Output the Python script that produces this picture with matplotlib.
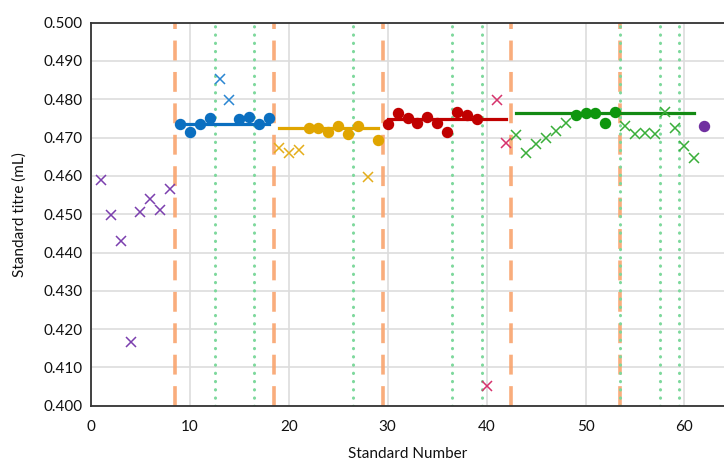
import matplotlib
matplotlib.use("Agg")
import matplotlib.pyplot as plt

plt.rcParams['font.family'] = ['Lato', 'DejaVu Sans']

# ---- data ----
purple_x_n = [1, 2, 3, 4, 5, 6, 7, 8]
purple_x_v = [0.4589, 0.4499, 0.4430, 0.4166, 0.4506, 0.4539, 0.4510, 0.4565]
purple_o_n = [62]
purple_o_v = [0.4729]

blue_o_n = [9, 10, 11, 12, 15, 16, 17, 18]
blue_o_v = [0.4736, 0.4715, 0.4736, 0.4750, 0.4749, 0.4755, 0.4736, 0.4750]
blue_x_n = [13, 14]
blue_x_v = [0.4853, 0.4798]

yellow_o_n = [22, 23, 24, 25, 26, 27, 29]
yellow_o_v = [0.4725, 0.4725, 0.4714, 0.4729, 0.4709, 0.4729, 0.4694]
yellow_x_n = [19, 20, 21, 28]
yellow_x_v = [0.4673, 0.4659, 0.4668, 0.4598]

red_o_n = [30, 31, 32, 33, 34, 35, 36, 37, 38, 39]
red_o_v = [0.4736, 0.4763, 0.4750, 0.4738, 0.4755, 0.4738, 0.4714, 0.4768, 0.4759, 0.4749]
pink_x_n = [40, 41, 42]
pink_x_v = [0.4052, 0.4798, 0.4687]

green_o_n = [49, 50, 51, 52, 53]
green_o_v = [0.4759, 0.4763, 0.4763, 0.4738, 0.4768]
green_x_n = [43, 44, 45, 46, 47, 48, 54, 55, 56, 57, 58, 59, 60, 61]
green_x_v = [0.4707, 0.4660, 0.4683, 0.4698, 0.4718, 0.4738,
             0.4729, 0.4709, 0.4712, 0.4709, 0.4768, 0.4724, 0.4679, 0.4648]

# mean lines: (start, end, level)
mean_start = [9, 19, 30, 43]
mean_end = [18, 29, 42, 61]
mean_level = [0.4736, 0.4724, 0.4749, 0.4764]
mean_colors = ['#0B6FC0', '#E0A500', '#C00000', '#138A13']

dashed_x = [8.5, 18.5, 29.5, 42.5, 53.5]
dotted_x = [12.5, 16.5, 26.5, 36.5, 39.5, 53.5, 57.5, 59.5]

x_ticks = [0, 10, 20, 30, 40, 50, 60]
y_ticks = [0.400, 0.410, 0.420, 0.430, 0.440, 0.450, 0.460, 0.470, 0.480, 0.490, 0.500]

# ---- figure ----
fig = plt.figure(figsize=(7.24, 4.61), dpi=100)
ax = fig.add_axes([91/724, 55.3/461, 1 - 91/724, (405.7-22.7)/461])

ax.set_xlim(0, 64)
ax.set_ylim(0.400, 0.500)
ax.set_xticks(x_ticks)
ax.set_yticks(y_ticks)
ax.set_yticklabels([f"{v:.3f}" for v in y_ticks])
ax.grid(True, color='#DDDDDD', linewidth=1.2, zorder=0)
ax.set_axisbelow(True)
ax.tick_params(length=0, labelsize=11, pad=6, colors='#111111')
ax.tick_params(axis='x', pad=10)
for s in ['left', 'bottom', 'top']:
    ax.spines[s].set_color('#333333')
    ax.spines[s].set_linewidth(1.3)
ax.spines['right'].set_visible(False)

for xv in dashed_x:
    ax.axvline(xv, color='#F9A46E', linewidth=2.6, linestyle=(0, (5.5, 3.2)), zorder=1.5, alpha=0.9)
for xv in dotted_x:
    ax.axvline(xv, color='#7DD89C', linewidth=2.2, linestyle=(0, (0.1, 2.6)),
               dash_capstyle='round', zorder=1.6)

for s, e, lv, c in zip(mean_start, mean_end, mean_level, mean_colors):
    ax.plot([s, e], [lv, lv], color=c, linewidth=2.3, zorder=2.5)

ms_o = 7.2
ms_x = 6.5
mew = 1.1
ax.plot(purple_x_n, purple_x_v, 'x', color='#7B3FAE', ms=ms_x, mew=mew, zorder=3)
ax.plot(purple_o_n, purple_o_v, 'o', color='#7030A0', ms=ms_o, zorder=3)
ax.plot(blue_o_n, blue_o_v, 'o', color='#0B6FC0', ms=ms_o, zorder=3)
ax.plot(blue_x_n, blue_x_v, 'x', color='#2A86D2', ms=ms_x, mew=mew, zorder=3)
ax.plot(yellow_o_n, yellow_o_v, 'o', color='#E0A500', ms=ms_o, zorder=3)
ax.plot(yellow_x_n, yellow_x_v, 'x', color='#E4AD1A', ms=ms_x, mew=mew, zorder=3)
ax.plot(red_o_n, red_o_v, 'o', color='#C00000', ms=ms_o, zorder=3)
ax.plot(pink_x_n, pink_x_v, 'x', color='#D6336C', ms=ms_x, mew=mew, zorder=3)
ax.plot(green_o_n, green_o_v, 'o', color='#0E960E', ms=ms_o, zorder=3)
ax.plot(green_x_n, green_x_v, 'x', color='#3AAE3A', ms=ms_x, mew=mew, zorder=3)

ax.set_xlabel('Standard Number', fontsize=11, labelpad=10, color='#111111')
ax.set_ylabel('Standard titre (mL)', fontsize=11, labelpad=12, color='#111111')

fig.savefig('out.png', dpi=100)
